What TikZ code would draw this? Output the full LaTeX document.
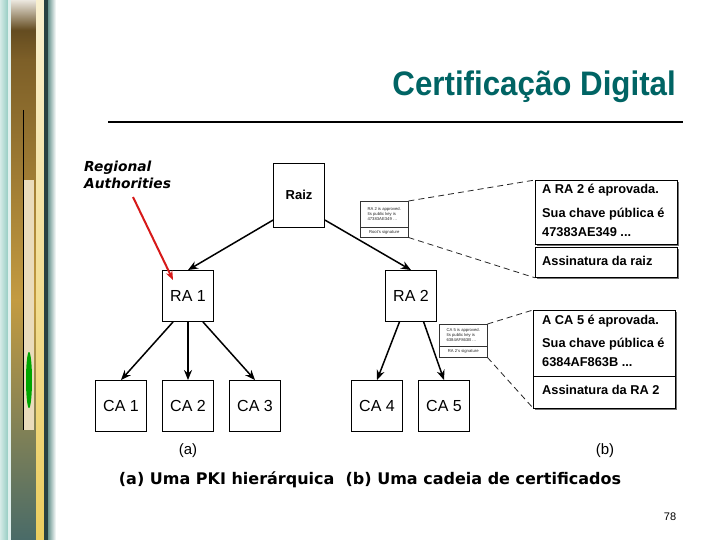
\documentclass[tikz,border=0pt]{standalone}
\usepackage{fontspec}
\setmainfont{Liberation Sans}
\newfontfamily\verdana{DejaVu Sans}
\usepackage{tikz}
\usetikzlibrary{arrows.meta, shadows}
\definecolor{titulo}{RGB}{0,100,100}
\definecolor{vermelho}{RGB}{215,25,25}
\definecolor{marrom}{RGB}{125,95,40}
\definecolor{dourado}{RGB}{195,155,65}
\definecolor{amarelo}{RGB}{235,205,95}
\definecolor{turquesa}{RGB}{150,205,195}
\definecolor{petroleo}{RGB}{40,65,65}

\begin{document}
\begin{tikzpicture}[x=1pt,y=-1pt]
	\tikzstyle{caixa}=[draw=black,line width=0.9pt,minimum width=51pt,minimum height=51pt,inner sep=0pt,font=\fontsize{16}{16}\selectfont]
	\tikzstyle{flecha}=[line width=1.5pt,-{Stealth[length=10pt,width=8pt]}]
	\tikzstyle{cert}=[draw=black,line width=0.8pt,anchor=north west,inner sep=0pt,minimum width=142pt,fill=white,drop shadow={shadow xshift=2pt,shadow yshift=-2pt,opacity=1,fill=black!55}]
	\tikzstyle{texto}=[anchor=west,inner sep=0pt,font=\bfseries\fontsize{12.8}{12.8}\selectfont]
	\tikzstyle{mini}=[draw=black!80,line width=0.5pt,anchor=north west,inner sep=1pt,minimum width=48pt,align=left,font=\fontsize{4.2}{4.8}\selectfont,text=black!85]
	\useasboundingbox (0,0) rectangle (720,540);
	\fill[white] (0,0) rectangle (720,540);

	\fill[white!80!turquesa] (0,0) rectangle (56,540);
	\shade[left color=white!60!turquesa,right color=turquesa] (0,0) rectangle (8,540);
	\fill[white!70!turquesa] (8,0) rectangle (11,540);
	\shade[top color=white!85!marrom,bottom color=marrom,middle color=marrom!80!black] (11,0) rectangle (38,60);
	\shade[top color=marrom,bottom color=dourado] (11,60) rectangle (38,300);
	\shade[top color=dourado,bottom color=petroleo!70!turquesa] (11,300) rectangle (38,540);
	\shade[top color=white!70!amarelo,bottom color=amarelo] (36,0) rectangle (44,540);
	\fill[petroleo] (44,0) rectangle (48,540);
	\shade[left color=petroleo!40!turquesa,right color=white] (48,0) rectangle (56,540);
	\fill[white!65!dourado] (24,180) rectangle (34,430);
	\draw[black,line width=1pt] (23,110) -- (23,430);
	\fill[green!65!black] (29,380) ellipse (3 and 28);

	\node[anchor=base east,inner sep=0pt,text=titulo,font=\bfseries\fontsize{34}{34}\selectfont] (titulo) at (676,96) {\scalebox{0.92}[1]{Certificação Digital}};
	\draw[line width=2.5pt] (108,122) -- (683,122);

	\node[anchor=north west,inner sep=0pt,align=left,font=\verdana\bfseries\itshape\fontsize{13.8}{17}\selectfont] (regional) at (84,161) {Regional\\Authorities};

	\node[caixa,minimum height=64pt,font=\bfseries\fontsize{13}{13}\selectfont](raiz) at (299,195){Raiz};
	\node[caixa](ra1) at (188,296){RA 1};
	\node[caixa](ra2) at (411,296){RA 2};
	\node[caixa](ca1) at (121,406){CA 1};
	\node[caixa](ca2) at (188,406){CA 2};
	\node[caixa](ca3) at (255,406){CA 3};
	\node[caixa](ca4) at (377,406){CA 4};
	\node[caixa](ca5) at (444,406){CA 5};
	\path[flecha]
		(raiz.224) edge (ra1.north)
		(raiz.-44) edge (ra2.north)
		(ra1.240) edge (ca1.north)
		(ra1.south) edge (ca2.north)
		(ra1.-60) edge (ca3.north)
		(ra2.246) edge (ca4.north)
		(ra2.-64) edge (ca5.north);

	\coordinate (alvo) at (173,280);
	\coordinate (origem) at (133,197);
	\draw[vermelho,line width=2pt,-{Stealth[length=9pt,width=7pt]}] (origem) -- (alvo);

	\node[mini,minimum height=26pt](peq1) at (360,201){RA 2 is approved.\\Its public key is\\47383AE349 \dots};
	\node[mini,minimum height=10pt](peq1b) at (360,227){Root's signature};
	\node[mini,minimum height=22pt](peq2) at (439,324){CA 5 is approved.\\Its public key is\\6384AF863B \dots};
	\node[mini,minimum height=11pt](peq2b) at (439,346){RA 2's signature};

	\node[cert,minimum height=64pt](aprov1) at (535,180){};
	\node[cert,minimum height=30pt](assin1) at (535,247){};
	\node[cert,minimum height=98pt](aprov2) at (533,310){};
	\draw[line width=0.8pt] (533,376) -- (675,376);
	\coordinate (assin2) at (533,408);

	\node[texto](t1) at (542,190){A RA 2 é aprovada.};
	\node[texto](t2) at (542,214){Sua chave pública é};
	\node[texto](t3) at (542,232){47383AE349 ...};
	\node[texto](t4) at (542,261){Assinatura da raiz};
	\node[texto](t5) at (542,321){A CA 5 é aprovada.};
	\node[texto](t6) at (542,344){Sua chave pública é};
	\node[texto](t7) at (542,362){6384AF863B ...};
	\node[texto](t8) at (542,390){Assinatura da RA 2};

	\path[draw=black!85,line width=0.8pt,dash pattern=on 6pt off 4pt]
		(peq1.north east) edge (aprov1.north west)
		(peq1b.south east) edge (assin1.south west)
		(peq2.north east) edge (aprov2.north west)
		(peq2b.south east) edge (assin2);

	\node[font=\fontsize{15}{15}\selectfont](leg1) at (188,451){(a)};
	\node[font=\fontsize{15}{15}\selectfont](leg2) at (605,451){(b)};
	\node[font=\verdana\bfseries\fontsize{16}{16}\selectfont](legenda) at (370,480){(a) Uma PKI hierárquica\ \ (b) Uma cadeia de certificados};
	\node[font=\fontsize{11}{11}\selectfont](pagina) at (670,517){78};
\end{tikzpicture}
\end{document}
